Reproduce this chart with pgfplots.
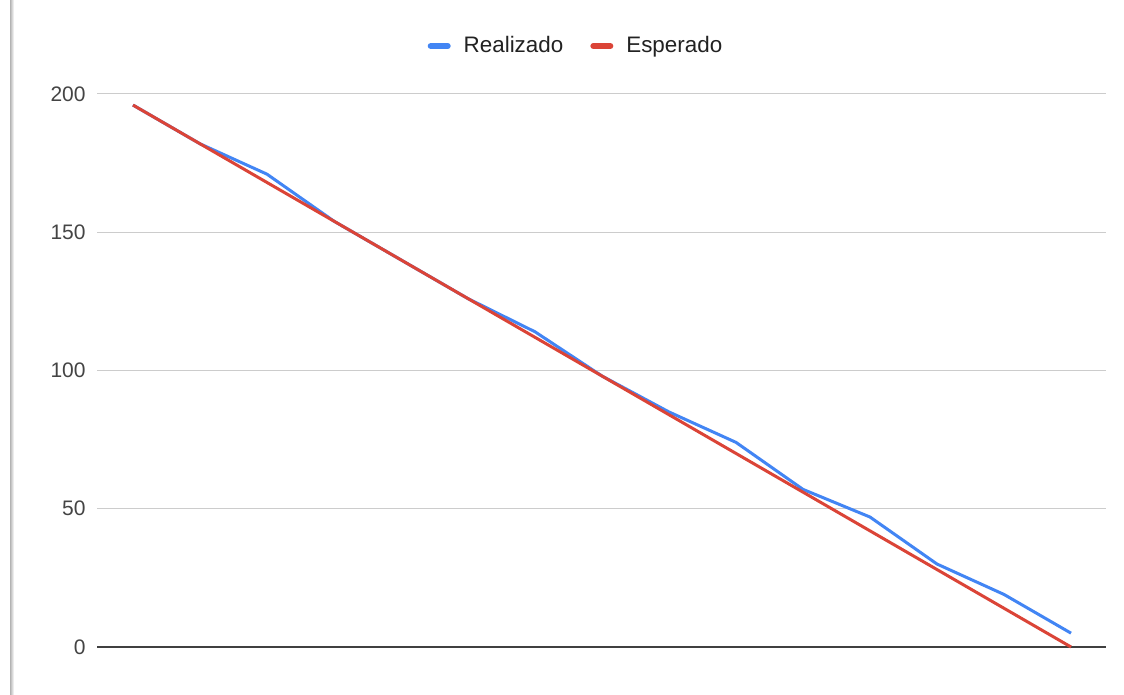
\documentclass[border=0pt]{standalone}
\usepackage{fontspec}
\setmainfont{Liberation Sans}
\usepackage{pgfplots}
\pgfplotsset{compat=1.18}
\definecolor{gblue}{HTML}{4285F4}
\definecolor{gred}{HTML}{DB4437}
\definecolor{gridc}{HTML}{CCCCCC}
\definecolor{ticktext}{HTML}{444444}
\definecolor{legtext}{HTML}{222222}

\begin{document}
\begin{tikzpicture}
  % page is 1124 x 695 px, 1 px = 0.5pt
  \useasboundingbox (0,0) rectangle (562pt,347.5pt);
  \fill[white] (0,0) rectangle (562pt,347.5pt);
  % screenshot shadow at the left edge
  \shade[left color=black!30, right color=white] (5pt,0) rectangle (7pt,347.5pt);

  \begin{axis}[
      at={(48.5pt,24pt)}, anchor=south west,
      scale only axis,
      width=504.5pt, height=276.5pt,
      xmin=-0.537, xmax=14.522,
      ymin=0, ymax=200,
      clip=false,
      axis line style={draw=none},
      tick style={draw=none},
      xtick=\empty,
      ytick={50,100,150,200},
      extra y ticks={0},
      extra tick style={grid style={black!75, line width=0.7pt}},
      ymajorgrids,
      grid style={gridc, line width=0.5pt},
      yticklabel style={anchor=east, inner sep=0pt, xshift=-5.5pt,
        text=ticktext, font=\fontsize{10.5}{12}\selectfont},
      /pgf/number format/assume math mode=true,
      legend columns=2,
      legend style={draw=none, fill=none,
        at={(0.4757,1)}, anchor=center, yshift=24pt,
        font=\fontsize{11.2}{13}\selectfont, text=legtext,
        /tikz/every even column/.append style={column sep=11.5pt}},
      legend image code/.code={
        \draw[line width=3pt, line cap=round, #1] (1.5pt,0pt) -- (10pt,0pt);
        \path[draw=none, fill=none] (0pt,0pt) -- (16pt,0pt);},
    ]
    \addplot[gblue, line width=1.5pt, line join=round] coordinates {
      (0,196) (1,182) (2,171) (3,154) (4,140) (5,126) (6,114) (7,98)
      (8,85) (9,74) (10,57) (11,47) (12,30) (13,19) (14,5)};
    \addlegendentry{Realizado}
    \addplot[gred, line width=1.5pt, line join=round] coordinates {
      (0,196) (1,182) (2,168) (3,154) (4,140) (5,126) (6,112) (7,98)
      (8,84) (9,70) (10,56) (11,42) (12,28) (13,14) (14,0)};
    \addlegendentry{Esperado}
  \end{axis}
\end{tikzpicture}
\end{document}
